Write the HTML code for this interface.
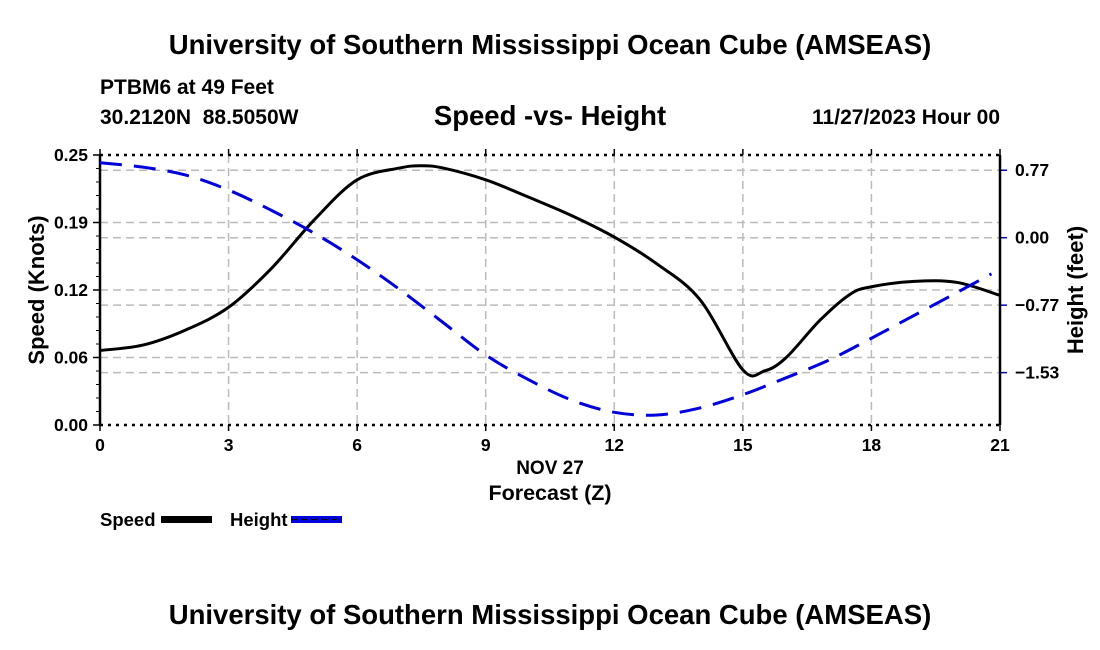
<!DOCTYPE html>
<html><head><meta charset="utf-8"><style>
html,body{margin:0;padding:0;background:#fff}
svg{display:block;font-family:"Liberation Sans",Arial,sans-serif;font-weight:bold}
</style></head><body>
<svg id="chart" width="1100" height="650" viewBox="0 0 1100 650">
<text x="550" y="54" text-anchor="middle" font-size="27.5">University of Southern Mississippi Ocean Cube (AMSEAS)</text>
<text x="100" y="94" font-size="21">PTBM6 at 49 Feet</text>
<text x="100" y="124" font-size="21">30.2120N&#160;&#160;88.5050W</text>
<text x="550" y="125" text-anchor="middle" font-size="27.5">Speed -vs- Height</text>
<text x="1000" y="124" text-anchor="end" font-size="21">11/27/2023 Hour 00</text>
<g id="grid"></g>
<g id="axes"></g>
<g id="series"></g>
<text x="550" y="474" text-anchor="middle" font-size="19">NOV 27</text>
<text x="550" y="500" text-anchor="middle" font-size="21.5">Forecast (Z)</text>
<text transform="translate(44,290) rotate(-90)" text-anchor="middle" font-size="22">Speed (Knots)</text>
<text transform="translate(1083,290) rotate(-90)" text-anchor="middle" font-size="22">Height (feet)</text>
<g>
<g>
<text x="100" y="526" font-size="18.5">Speed</text>
<rect x="161" y="516" width="51" height="7" fill="#000"/>
</g>
<g>
<text x="230" y="526" font-size="18.5">Height</text>
<rect x="291" y="516" width="51" height="7" fill="#0000dd"/>
<line x1="291" y1="519.5" x2="342" y2="519.5" stroke="#000" stroke-width="1" stroke-dasharray="6,4"/>
</g>
</g>
<text x="550" y="624" text-anchor="middle" font-size="27.5">University of Southern Mississippi Ocean Cube (AMSEAS)</text>
</svg>
<script>
const hours = [0,1,2,3,4,5,6,7,7.5,8,9,10,11,12,13,14,15,15.5,16,16.8,17.5,18,19,20,21];
const speed = [0.069,0.074,0.088,0.109,0.145,0.190,0.227,0.238,0.240,0.238,0.227,0.211,0.194,0.174,0.149,0.116,0.051,0.050,0.062,0.097,0.121,0.128,0.133,0.132,0.120];
const heightHours = [0,1,2,3,4,5,6,7,8,9,10,11,12,13,14,15,16,17,18,19,20,20.8];
const heightFt = [0.85,0.80,0.71,0.54,0.31,0.05,-0.25,-0.59,-0.96,-1.33,-1.61,-1.84,-1.98,-2.01,-1.93,-1.78,-1.59,-1.39,-1.14,-0.88,-0.62,-0.41];
const xTicks = [0,3,6,9,12,15,18,21];
const speedTicks = [0,0.0625,0.125,0.1875,0.25];
const speedTickLabels = ["0.00","0.06","0.12","0.19","0.25"];
const heightTicks = [0.765,0,-0.765,-1.53];
const heightTickLabels = ["0.77","0.00","\u22120.77","\u22121.53"];

const L=100,R=1000,T=155,B=425;
const x = h => L + (h/21)*(R-L);
const yS = v => B - (v/0.25)*(B-T);
const yH = v => 237.7 - v*88.2;
const NS="http://www.w3.org/2000/svg";
function mk(tag, attrs, parent){const e=document.createElementNS(NS,tag);for(const k in attrs)e.setAttribute(k,attrs[k]);parent.appendChild(e);return e;}
function smooth(pts){let d="M"+pts[0][0]+","+pts[0][1];for(let i=0;i<pts.length-1;i++){const p0=pts[i-1]||pts[i],p1=pts[i],p2=pts[i+1],p3=pts[i+2]||p2;const c1=[p1[0]+(p2[0]-p0[0])/6,p1[1]+(p2[1]-p0[1])/6],c2=[p2[0]-(p3[0]-p1[0])/6,p2[1]-(p3[1]-p1[1])/6];d+=" C"+c1+" "+c2+" "+p2;}return d;}
const grid=document.getElementById('grid'), axes=document.getElementById('axes'), series=document.getElementById('series');
const gs={stroke:"#bbb","stroke-width":1.5,"stroke-dasharray":"8,5",fill:"none"};
xTicks.forEach((t,i)=>{
  if(t>0&&t<21){const g=mk('line',Object.assign({x1:x(t),x2:x(t),y1:T,y2:B},gs),grid);
  
  }
  mk('line',{x1:x(t),x2:x(t),y1:B,y2:B+6,stroke:"#000","stroke-width":1.5},axes);
  mk('line',{x1:x(t),x2:x(t),y1:T,y2:T-6,stroke:"#000","stroke-width":1.5},axes);
  const lb=mk('text',{x:x(t),y:B+26,"text-anchor":"middle","font-size":17.5},axes);
  lb.textContent=t;
  
  
});
speedTicks.forEach((t,i)=>{
  if(t>0&&t<0.25){const g=mk('line',Object.assign({x1:L,x2:R,y1:yS(t),y2:yS(t)},gs),grid);
  
  }
  mk('line',{x1:L-7,x2:L,y1:yS(t),y2:yS(t),stroke:"#000","stroke-width":1.5},axes);
  const lb=mk('text',{x:L-12,y:yS(t)+6,"text-anchor":"end","font-size":17.5},axes);
  lb.textContent=speedTickLabels[i];
  
  
});
for(let k=1;k<20;k++){if(k%5)mk('line',{x1:L-4,x2:L,y1:yS(k*0.0125),y2:yS(k*0.0125),stroke:"#000","stroke-width":1},axes);}
heightTicks.forEach((t,i)=>{
  const g=mk('line',Object.assign({x1:L,x2:R,y1:yH(t),y2:yH(t)},gs),grid);
  
  
  mk('line',{x1:R,x2:R+7,y1:yH(t),y2:yH(t),stroke:"#0000cc","stroke-width":1.5},axes);
  const lb=mk('text',{x:R+15,y:yH(t)+6,"font-size":17.5},axes);
  lb.textContent=heightTickLabels[i];
  
  
});
mk('line',{x1:L,x2:R,y1:T,y2:T,stroke:"#000","stroke-width":2.5,"stroke-dasharray":"3,5"},axes);
mk('line',{x1:L,x2:R,y1:B,y2:B,stroke:"#000","stroke-width":2.5,"stroke-dasharray":"3,5"},axes);
mk('line',{x1:L,x2:L,y1:T,y2:B,stroke:"#000","stroke-width":2.5},axes);
mk('line',{x1:R,x2:R,y1:T,y2:B,stroke:"#000","stroke-width":2.5},axes);
const sp=mk('path',{d:smooth(hours.map((h,i)=>[x(h),yS(speed[i])])),fill:"none",stroke:"#000","stroke-width":3,"stroke-linejoin":"round"},series);


const hl=mk('path',{d:smooth(heightHours.map((h,i)=>[x(h),yH(heightFt[i])])),fill:"none",stroke:"#0000dd","stroke-width":3,"stroke-dasharray":"22,12"},series);


</script>
</body></html>
